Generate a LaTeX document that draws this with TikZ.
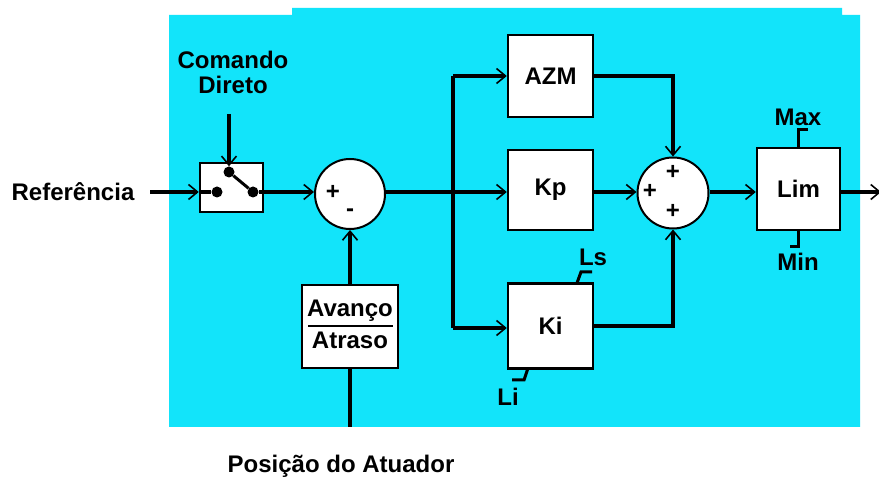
\documentclass[tikz,border=0pt]{standalone}
\usepackage{fontspec}
\setmainfont{Liberation Sans}
\usetikzlibrary{arrows.meta}
\definecolor{bgcyan}{RGB}{18,228,250}
\tikzset{
  lbl/.style={font=\fontsize{24}{25}\selectfont\bfseries, inner sep=0pt},
  blk/.style={draw=black, fill=white, line width=2.5pt, inner sep=0pt},
  sumc/.style={draw=black, fill=white, circle, line width=2pt, minimum size=70pt, inner sep=0pt},
  dotn/.style={circle, fill=black, inner sep=0pt, minimum size=11pt},
  wire/.style={line width=3.5pt, black},
  arr/.style={wire, -{Straight Barb[length=9pt,width=15pt,line width=1.6pt]}},
  brk/.style={line width=3pt, black}
}
\begin{document}
\begin{tikzpicture}[x=1pt,y=-1pt]
\useasboundingbox (0,0) rectangle (879,478);
\fill[white] (0,0) rectangle (879,478);
\fill[bgcyan] (169,15) -- (292,15) -- (292,8) -- (842,8) -- (842,15) -- (860,15) -- (860,427) -- (169,427) -- cycle;

% text labels
\node[lbl] (ref) at (73,192) {Referência};
\node[lbl, align=center] (cmd) at (233,72) {Comando\\[0pt]Direto};
\node[lbl] (pos) at (341,466) {Posição do Atuador};

% switch
\node[blk, minimum width=63pt, minimum height=49pt] (sw) at (231.5,187.5) {};
\node[dotn] (swL) at (217,192) {};
\node[dotn] (swR) at (253,192) {};
\node[dotn] (swT) at (229,172) {};
\coordinate (refend) at (150,192);
\coordinate (cmdtop) at (229,114);

% summing junctions
\node[sumc] (sum1) at (350,194) {};
\node[lbl] (s1p) at (333,192) {+};
\node[lbl] (s1m) at (350,213) {-};
\node[sumc, minimum size=71pt] (sum2) at (673,193) {};
\node[lbl] (s2t) at (673,172) {+};
\node[lbl] (s2l) at (650,191) {+};
\node[lbl] (s2b) at (673,211) {+};

% blocks
\node[blk, minimum width=85pt, minimum height=82pt] (azm) at (550.5,76) {};
\node[lbl] (azmt) at (azm) {AZM};
\node[blk, minimum width=85pt, minimum height=80pt] (kp) at (550.5,190) {};
\node[lbl] (kpt) at (kp) {Kp};
\node[blk, minimum width=85pt, minimum height=85pt] (ki) at (550.5,326) {};
\node[lbl] (kit) at (ki) {Ki};
\node[blk, minimum width=83pt, minimum height=82pt] (lim) at (798.5,189) {};
\node[lbl] (limt) at (lim) {Lim};
\node[blk, minimum width=96pt, minimum height=83pt] (av) at (350,326.5) {};
\node[lbl] (av1) at (350,311) {Avanço};
\node[lbl] (av2) at (350,340) {Atraso};
\coordinate (avrl) at (308,326);
\coordinate (avrr) at (393,326);
\draw[line width=2.5pt] (avrl) -- (avrr);

% limit labels
\node[lbl] (max) at (798,117) {Max};
\node[lbl] (min) at (798,262) {Min};
\node[lbl] (ls) at (593,257) {Ls};
\node[lbl] (li) at (508,397) {Li};
\coordinate (lsa) at (577,283);
\coordinate (lia) at (528,368);

% connectors
\draw[arr] (refend) -- (refend -| sw.west);
\draw[wire] (refend -| sw.west) -- (swL);
\draw[arr] (cmdtop) -- (swT);
\draw[line width=3pt] (swT) -- (swR);
\draw[arr] (swR) -- (swR -| sum1.west);
\coordinate (br) at (453,192);
\coordinate (brtop) at (453,76);
\coordinate (brbot) at (453,328);
\draw[wire] (sum1.east |- br) -- (br);
\draw[arr] (br) -- (br -| kp.west);
\draw[wire] (brtop) -- (brbot);
\draw[arr] (brtop) -- (azm.west);
\draw[arr] (brbot) -- (brbot -| ki.west);
\draw[arr] (azm.east) -| (sum2.north);
\draw[arr] (kp.east |- br) -- (br -| sum2.west);
\draw[arr] (ki.east) -| (sum2.south);
\draw[arr] (sum2.east |- br) -- (br -| lim.west);
\coordinate (outend) at (881,192);
\draw[arr] (lim.east |- br) -- (outend);
\draw[arr] (av) -- (sum1);
\coordinate (bot) at (350,427);
\draw[wire] (av.south) -- (bot);

% limit brackets
\draw[brk] (lim.north) -- ++(0,-17) -- ++(9,0);
\draw[brk] (lim.south) -- ++(0,15) -- ++(-9,0);
\draw[brk] (lsa) -- ++(4,-11) -- ++(11,0);
\draw[brk] (lia) -- ++(-4,12) -- ++(-12,0);
\end{tikzpicture}
\end{document}
